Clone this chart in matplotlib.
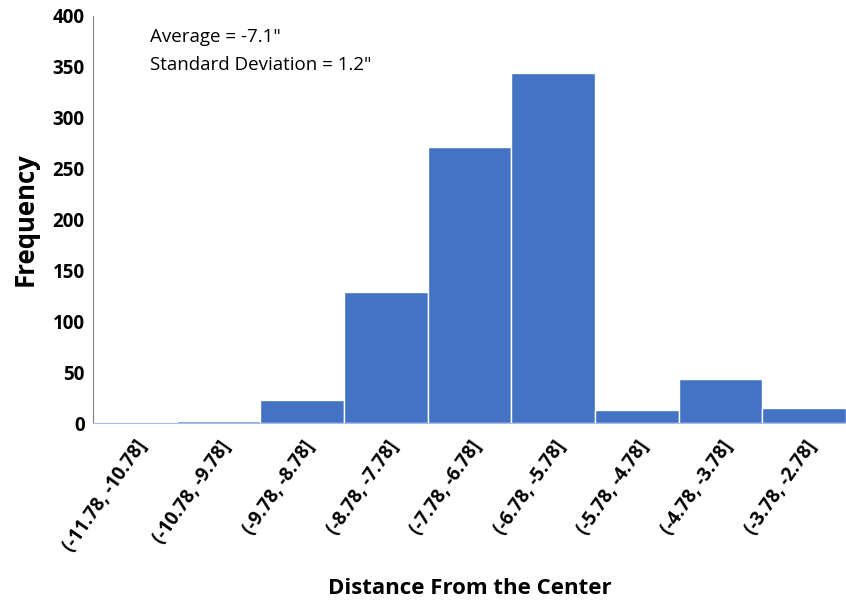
import matplotlib.pyplot as plt

bins = ['(-11.78, -10.78]', '(-10.78, -9.78]', '(-9.78, -8.78]', '(-8.78, -7.78]',
        '(-7.78, -6.78]', '(-6.78, -5.78]', '(-5.78, -4.78]', '(-4.78, -3.78]',
        '(-3.78, -2.78]']
counts = [1, 2, 23, 129, 271, 344, 13, 43, 15]
yticks = [0, 50, 100, 150, 200, 250, 300, 350, 400]

plt.rcParams['font.family'] = ['Open Sans', 'DejaVu Sans']

fig = plt.figure(figsize=(8.46, 6.09), dpi=100)
ax = fig.add_axes([0.110, 0.305, 0.890, 0.669])

x = range(len(bins))
ax.bar(x, counts, width=1.0, color='#4472C4', edgecolor='white', linewidth=1)

ax.set_xlim(-0.5, len(bins) - 0.5)
ax.set_ylim(0, 400)
ax.set_yticks(yticks)
ax.set_yticklabels([str(t) for t in yticks], fontsize=13.5, fontweight='bold')
ax.set_xticks(list(x))
ax.set_xticklabels(bins, rotation=55, ha='right', rotation_mode='anchor',
                   fontsize=13.5, fontweight='bold')
ax.tick_params(axis='y', length=0, pad=6)
ax.tick_params(axis='x', length=0, pad=10)

for s in ['top', 'right']:
    ax.spines[s].set_visible(False)
ax.spines['left'].set_color('#808080')
ax.spines['bottom'].set_color('#A9BCE3')

ax.set_ylabel('Frequency', fontsize=18.5, fontweight='bold', labelpad=10)
ax.set_xlabel('Distance From the Center', fontsize=16, fontweight='bold', labelpad=16)

ax.text(0.076, 0.935, 'Average = -7.1"', transform=ax.transAxes, fontsize=13.5)
ax.text(0.076, 0.868, 'Standard Deviation = 1.2"', transform=ax.transAxes, fontsize=13.5)

fig.savefig('out.png', dpi=100)
